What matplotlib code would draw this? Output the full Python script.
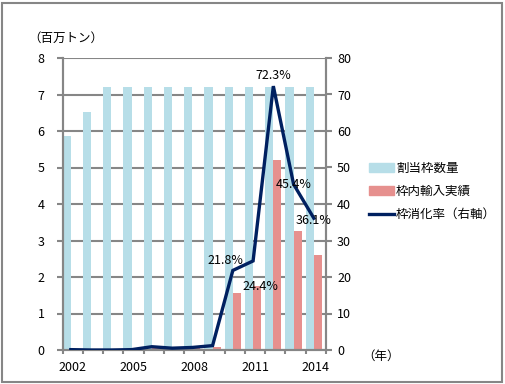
import numpy as np
import matplotlib
matplotlib.use("Agg")
import matplotlib.pyplot as plt
from matplotlib.patches import Patch, Rectangle
from matplotlib.lines import Line2D

plt.rcParams['font.family'] = ['Noto Sans CJK JP', 'DejaVu Sans']

# データ
years = np.arange(2002, 2015)
quota = [5.85, 6.525, 7.2, 7.2, 7.2, 7.2, 7.2, 7.2, 7.2, 7.2, 7.2, 7.2, 7.2]        # 割当枠数量（百万トン）
imports = [0.006, 0.0, 0.002, 0.004, 0.065, 0.035, 0.05, 0.084, 1.57, 1.75, 5.21, 3.27, 2.6]  # 枠内輸入実績
rate = [0.1, 0.0, 0.0, 0.1, 0.9, 0.5, 0.7, 1.2, 21.8, 24.4, 72.3, 45.4, 36.1]     # 枠消化率（%）
label_years = [2002, 2005, 2008, 2011, 2014]
labelled = {2010: (-7, 10), 2011: (7, -26), 2012: (0, 11), 2013: (0, 0), 2014: (0, -2)}

c_quota = '#B7DEE8'
c_imp = '#E6908E'
c_line = '#002060'
c_grid = '#868686'
fs = 9

fig = plt.figure(figsize=(5.05, 3.84), dpi=100)
ax = fig.add_axes([62.7 / 505, 1 - 350 / 384, (326 - 62.7) / 505, (350 - 58) / 384])

idx = np.arange(len(years))
ax.bar(idx, quota, width=0.4, align='edge', color=c_quota, zorder=2)
ax.bar(idx + 0.4, imports, width=0.4, align='edge', color=c_imp, zorder=2)

ax.set_xlim(0, len(years))
ax.set_ylim(0, 8)
ax.set_yticks(np.arange(0, 9, 1))
ax.yaxis.grid(True, color=c_grid, linewidth=1.5)
ax.set_axisbelow(True)

ax.set_xticks(np.arange(0, len(years) + 1))
ax.set_xticklabels([])
ax.set_xticks([list(years).index(y) + 0.5 for y in label_years], minor=True)
ax.set_xticklabels([str(y) for y in label_years], minor=True)
ax.tick_params(axis='x', which='major', direction='out', length=3, width=1.5, color=c_grid)
ax.tick_params(axis='x', which='minor', length=0, pad=8, labelsize=fs)
ax.tick_params(axis='y', direction='out', length=4, width=1.5, color=c_grid, pad=9, labelsize=fs)

for s in ['left', 'bottom', 'right']:
    ax.spines[s].set_color(c_grid)
    ax.spines[s].set_linewidth(1.5)
ax.spines['top'].set_visible(False)

ax2 = ax.twinx()
ax2.plot(idx + 0.4, rate, color=c_line, linewidth=2.4, solid_joinstyle='miter', zorder=3)
ax2.set_ylim(0, 80)
ax2.set_yticks(np.arange(0, 81, 10))
ax2.tick_params(axis='y', direction='out', length=4, width=1.5, color=c_grid, pad=4, labelsize=fs)
for s in ['left', 'bottom', 'right']:
    ax2.spines[s].set_color(c_grid)
    ax2.spines[s].set_linewidth(1.5)
ax2.spines['top'].set_visible(False)

for y, (dx, dy) in labelled.items():
    i = list(years).index(y)
    ax2.annotate(f'{rate[i]:.1f}%', (i + 0.4, rate[i]), xytext=(dx, dy),
                 textcoords='offset pixels', ha='center', va='center', fontsize=fs)

handles = [Patch(color=c_quota), Patch(color=c_imp), Line2D([], [], color=c_line, linewidth=2.4)]
fig.legend(handles, ['割当枠数量', '枠内輸入実績', '枠消化率（右軸）'],
           loc='upper left', bbox_to_anchor=(369 / 505, 1 - 162 / 384), frameon=False,
           fontsize=fs, handlelength=2.0, handleheight=0.65, handletextpad=0.15,
           labelspacing=0.8, borderpad=0, borderaxespad=0)

fig.text(28 / 505, 1 - 38 / 384, '（百万トン）', ha='left', va='center', fontsize=fs)
fig.text(362 / 505, 1 - 356 / 384, '（年）', ha='left', va='center', fontsize=fs)

fig.patches.append(Rectangle((2 / 505, 2 / 384), 500 / 505, 379 / 384, transform=fig.transFigure,
                             fill=False, edgecolor=c_grid, linewidth=1.5))

fig.savefig('out.png', dpi=100)
